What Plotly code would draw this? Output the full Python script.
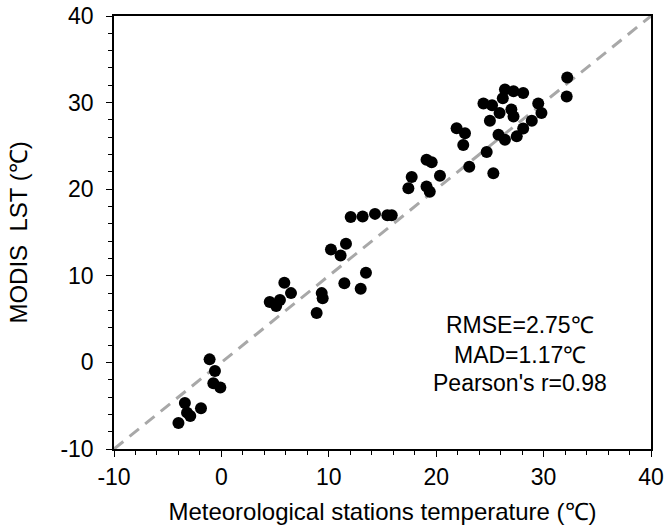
import plotly.graph_objects as go

station_temp = [
    -4.0, -3.2, -3.4, -2.9, -1.9, -1.1, -0.6, -0.75, -0.1,
    4.5, 5.1, 5.45, 5.86, 6.48, 8.87, 9.34, 9.43, 10.2, 11.1, 11.6, 11.45, 12.97, 13.46,
    12.04, 13.15, 14.3, 15.45, 15.86,
    17.41, 17.72, 19.1, 19.58, 19.1, 19.4, 20.35, 23.08, 25.32, 24.7,
    21.9, 22.68, 22.52,
    24.4, 25.2, 26.2, 26.4, 27.2, 28.1, 29.5, 29.8, 27.0, 27.2, 25.9, 25.0,
    28.9, 28.1, 27.5, 26.4, 25.8, 32.2, 32.15,
]
modis_lst = [
    -7.0, -5.8, -4.7, -6.2, -5.3, 0.35, -1.0, -2.4, -2.9,
    6.97, 6.5, 7.2, 9.2, 8.0, 5.7, 8.0, 7.4, 13.05, 12.35, 13.7, 9.13, 8.5, 10.36,
    16.8, 16.85, 17.15, 17.0, 17.0,
    20.1, 21.4, 23.4, 23.1, 20.3, 19.7, 21.55, 22.6, 21.84, 24.3,
    27.03, 26.45, 25.1,
    29.9, 29.7, 30.5, 31.5, 31.3, 31.1, 29.9, 28.8, 29.2, 28.4, 28.8, 27.9,
    27.9, 27.0, 26.1, 25.7, 26.3, 32.9, 30.7,
]
one_to_one = [-10, 40]
tick_values = [-10, 0, 10, 20, 30, 40]
tick_labels = ["-10", "0", "10", "20", "30", "40"]
stats_lines = ["RMSE=2.75\u2103", "MAD=1.17\u2103", "Pearson's r=0.98"]
stats_y = [4.3, 0.85, -2.4]

font_family = "Liberation Sans, Arial, sans-serif"

fig = go.Figure()
fig.add_trace(go.Scatter(
    x=one_to_one, y=one_to_one, mode="lines",
    line=dict(color="#a8a8a8", width=3, dash="12px,8px"),
    hoverinfo="skip", showlegend=False,
))
fig.add_trace(go.Scatter(
    x=station_temp, y=modis_lst, mode="markers",
    marker=dict(color="black", size=12, line=dict(width=0)),
    showlegend=False,
))

for txt, yy in zip(stats_lines, stats_y):
    fig.add_annotation(x=27.8, y=yy, text=txt, showarrow=False,
                       xanchor="center", yanchor="middle",
                       font=dict(size=23, color="black", family=font_family))

axis_common = dict(
    range=[-10, 40], tickvals=tick_values, ticktext=tick_labels,
    showgrid=False, zeroline=False,
    showline=True, linecolor="black", linewidth=1.5, mirror=True,
    ticks="outside", ticklen=6, tickwidth=1.3, tickcolor="black",
    minor=dict(dtick=2, tick0=0, ticks="outside", ticklen=4, tickwidth=1.2,
               tickcolor="black", showgrid=False),
    tickfont=dict(size=23, color="black", family=font_family),
    ticklabeloverflow="allow",
)

fig.update_xaxes(**axis_common, ticklabelstandoff=1,
                 title=dict(text="Meteorological stations temperature (\u2103)",
                            font=dict(size=24, color="black", family=font_family), standoff=14))
fig.update_yaxes(**axis_common, ticklabelstandoff=8,
                 title=dict(text="MODIS\u00a0\u00a0LST (\u2103)",
                            font=dict(size=24, color="black", family=font_family), standoff=26))

fig.update_layout(
    width=664, height=531,
    margin=dict(l=114, r=13, t=16, b=82, autoexpand=False),
    plot_bgcolor="white", paper_bgcolor="white",
    font=dict(family=font_family, color="black"),
)

# Remove the browser's default body margin so the figure sits at the page origin.
fig.write_html("out.html", config={"displayModeBar": False},
               post_script="document.body.style.margin='0';")
